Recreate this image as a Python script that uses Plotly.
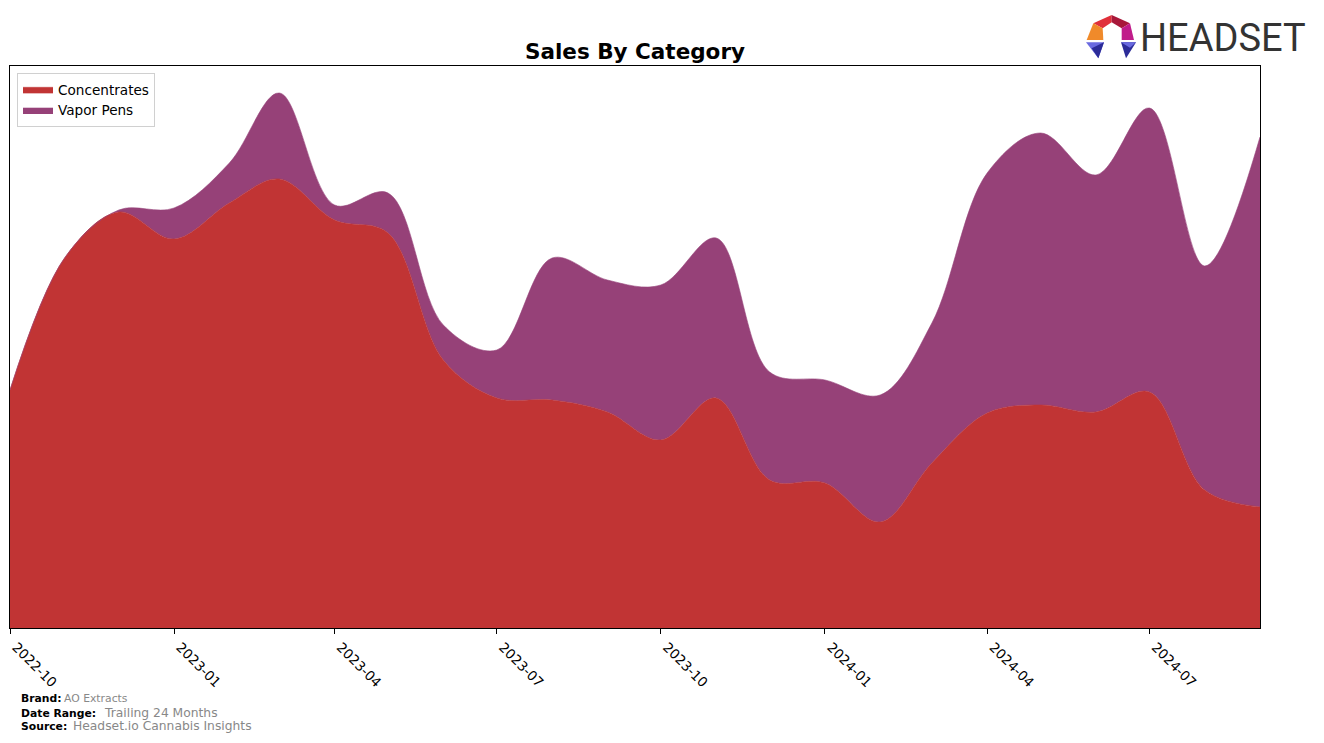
import plotly.graph_objects as go

# ---- data ----
months = ["2022-10-01", "2022-11-01", "2022-12-01", "2023-01-01", "2023-02-01", "2023-03-01",
          "2023-04-01", "2023-05-01", "2023-06-01", "2023-07-01", "2023-08-01", "2023-09-01",
          "2023-10-01", "2023-11-01", "2023-12-01", "2024-01-01", "2024-02-01", "2024-03-01",
          "2024-04-01", "2024-05-01", "2024-06-01", "2024-07-01", "2024-08-01", "2024-09-01"]
concentrates = [238, 371, 416, 389, 425, 449, 408, 395, 268, 230, 228, 216,
                188, 230, 148, 145, 106, 165, 215, 223, 216, 236, 138, 121]
vapor_pens = [0, 0, 2, 31, 40, 86, 15, 40, 35, 48, 142, 132,
              155, 160, 108, 103, 127, 140, 240, 272, 237, 284, 224, 370]
tick_vals = ["2022-10-01", "2023-01-01", "2023-04-01", "2023-07-01",
             "2023-10-01", "2024-01-01", "2024-04-01", "2024-07-01"]
tick_text = ["2022-10", "2023-01", "2023-04", "2023-07", "2023-10", "2024-01", "2024-04", "2024-07"]

C_CONC = "#c13434"
C_VAPE = "#964178"

# plot area in pixels
L, R, T, B = 10, 1260, 66, 628
W, H = 1324, 743


def px2x(px):
    return (px - L) / (R - L)


def px2y(py):
    return (B - py) / (B - T)


fig = go.Figure()
fig.add_trace(go.Scatter(x=months, y=concentrates, name="Concentrates", stackgroup="one",
                         mode="lines", line=dict(shape="spline", smoothing=1.0, width=0.6, color=C_CONC),
                         fillcolor=C_CONC))
fig.add_trace(go.Scatter(x=months, y=vapor_pens, name="Vapor Pens", stackgroup="one",
                         mode="lines", line=dict(shape="spline", smoothing=1.0, width=0.6, color=C_VAPE),
                         fillcolor=C_VAPE))

font = "DejaVu Sans"

fig.update_layout(
    width=W, height=H,
    margin=dict(l=L, r=W - R, t=T, b=H - B, autoexpand=False),
    paper_bgcolor="white", plot_bgcolor="white",
    font=dict(family=font, color="black"),
    showlegend=True,
    title=dict(text="<b>Sales By Category</b>", x=635 / W, xanchor="center",
               y=1 - 51 / H, yanchor="middle", font=dict(size=21.5, family=font, color="black")),
    legend=dict(x=px2x(17), y=px2y(73), xanchor="left", yanchor="top", traceorder="normal",
                bgcolor="white", bordercolor="#d0d0d0", borderwidth=1,
                font=dict(size=13.6, family=font, color="black"),
                tracegroupgap=0, itemwidth=30),
    xaxis=dict(range=[months[0], months[-1]], tickvals=tick_vals, ticktext=tick_text,
               tickangle=45, ticks="outside", ticklen=5, tickcolor="black",
               ticklabelshift=6,
               showline=True, mirror=True, linecolor="black", linewidth=1,
               showgrid=False, zeroline=False, tickfont=dict(size=13.5, family=font, color="black")),
    yaxis=dict(range=[0, B - T], showticklabels=False, ticks="", showgrid=False, zeroline=False,
               showline=True, mirror=True, linecolor="black", linewidth=1),
)

# footer
def label(px, py, text, size, color, bold=False):
    t = f"<b>{text}</b>" if bold else text
    fig.add_annotation(x=px2x(px), y=px2y(py), xref="paper", yref="paper", text=t,
                       showarrow=False, xanchor="left", yanchor="middle",
                       font=dict(size=size, family=font, color=color))

label(19, 698, "Brand:", 10.8, "black", True)
label(62, 698, "AO Extracts", 10.8, "#888888")
label(19, 713, "Date Range:", 10.8, "black", True)
label(102, 713, "Trailing 24 Months", 12.3, "#888888")
label(19, 726, "Source:", 10.8, "black", True)
label(71, 726, "Headset.io Cannabis Insights", 12.3, "#888888")

# logo text
fig.add_annotation(x=px2x(1138), y=px2y(38), xref="paper", yref="paper", text="HEADSET",
                   showarrow=False, xanchor="left", yanchor="middle",
                   font=dict(size=38, family="Roboto, sans-serif", color="#333333"))

# logo icon (pixel polygons)
ox, oy = 1080, 5


def poly(pts, color):
    path = ""
    for i, (zx, zy) in enumerate(pts):
        x = px2x(ox + zx / 3)
        y = px2y(oy + zy / 3)
        path += ("M" if i == 0 else "L") + f"{x:.5f},{y:.5f} "
    path += "Z"
    fig.add_shape(type="path", path=path, xref="paper", yref="paper",
                  fillcolor=color, line=dict(width=0), layer="above")

poly([(40, 55), (95, 30), (95, 52), (68, 70)], "#e0303a")
poly([(95, 30), (150, 55), (125, 70), (95, 52)], "#a8183a")
poly([(40, 55), (68, 70), (70, 105), (20, 105)], "#f08a2a")
poly([(150, 55), (125, 70), (125, 105), (162, 105)], "#c01c8a")
poly([(18, 112), (72, 112), (55, 160)], "#6a6ae0")
poly([(35, 130), (72, 112), (55, 160)], "#2c2c98")
poly([(123, 112), (168, 112), (138, 160)], "#2c2c98")
poly([(123, 112), (168, 112), (150, 128)], "#6a6ae0")

fig.write_html("out.html")
